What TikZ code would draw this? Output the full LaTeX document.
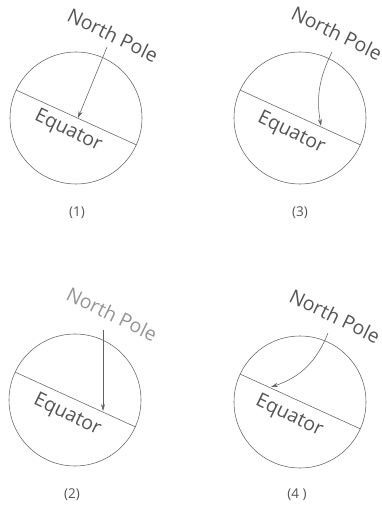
\documentclass[tikz,border=0pt]{standalone}
\usepackage{fontspec}
\setmainfont{Open Sans}
\usetikzlibrary{arrows.meta, positioning}
\definecolor{linegray}{gray}{0.38}
\definecolor{txtgray}{gray}{0.33}
\definecolor{paletxt}{gray}{0.58}

\begin{document}
\begin{tikzpicture}[x=1pt, y=1pt,
  globe/.style={circle, draw=linegray, line width=0.55pt, minimum size=132pt,
                inner sep=0pt, outer sep=0pt},
  eqline/.style={-, draw=linegray, line width=0.55pt},
  pole/.style={-{Stealth[length=7pt, width=4pt]}, draw=linegray, line width=0.55pt},
  tx/.style={font=\fontsize{19.5}{22}\selectfont, text=txtgray, rotate=-26},
  num/.style={font=\fontsize{13.5}{15}\selectfont, text=txtgray}
]
\useasboundingbox (0,0) rectangle (381,-506);

% (1): straight arrow, slanted
\node[globe] (g1) at (76,-118) {};
\draw[eqline] (g1.155.6) -- (g1.-24.4);
\node[tx] (np1) at (113,-35) {North Pole};
\node[tx] (eq1) at (68,-131) {Equator};
\coordinate (s1) at (107,-47);
\coordinate (t1) at (78,-118);
\draw[pole] (s1) -- (t1);
\node[num] (lab1) at (77,-213) {(1)};

% (3): arrow bent to the left
\node[globe] (g3) at (300,-118) {};
\draw[eqline] (g3.155.6) -- (g3.-24.4);
\node[tx] (np3) at (337,-33) {North Pole};
\node[tx] (eq3) at (291,-133) {Equator};
\coordinate (s3) at (332,-52);
\coordinate (t3) at (321,-126);
\draw[pole] (s3) to[bend right=18] (t3);
\node[num] (lab3) at (300,-213) {(3)};

% (2): vertical arrow
\node[globe] (g2) at (75,-400) {};
\draw[eqline] (g2.155.6) -- (g2.-24.4);
\node[tx, text=paletxt] (np2) at (112,-314) {North Pole};
\node[tx] (eq2) at (67,-415) {Equator};
\coordinate (s2) at (103,-330);
\coordinate (t2) at (103,-411);
\draw[pole] (s2) -- (t2);
\node[num] (lab2) at (72,-495) {(2)};

% (4): arrow curving down onto the left of the equator
\node[globe] (g4) at (300,-402) {};
\draw[eqline] (g4.155.6) -- (g4.-24.4);
\node[tx] (np4) at (335,-316) {North Pole};
\node[tx] (eq4) at (289,-416) {Equator};
\coordinate (s4) at (328,-333);
\coordinate (t4) at (271,-387);
\draw[pole] (s4) to[bend left=25] (t4);
\node[num] (lab4) at (297,-495) {(4 )};
\end{tikzpicture}
\end{document}
